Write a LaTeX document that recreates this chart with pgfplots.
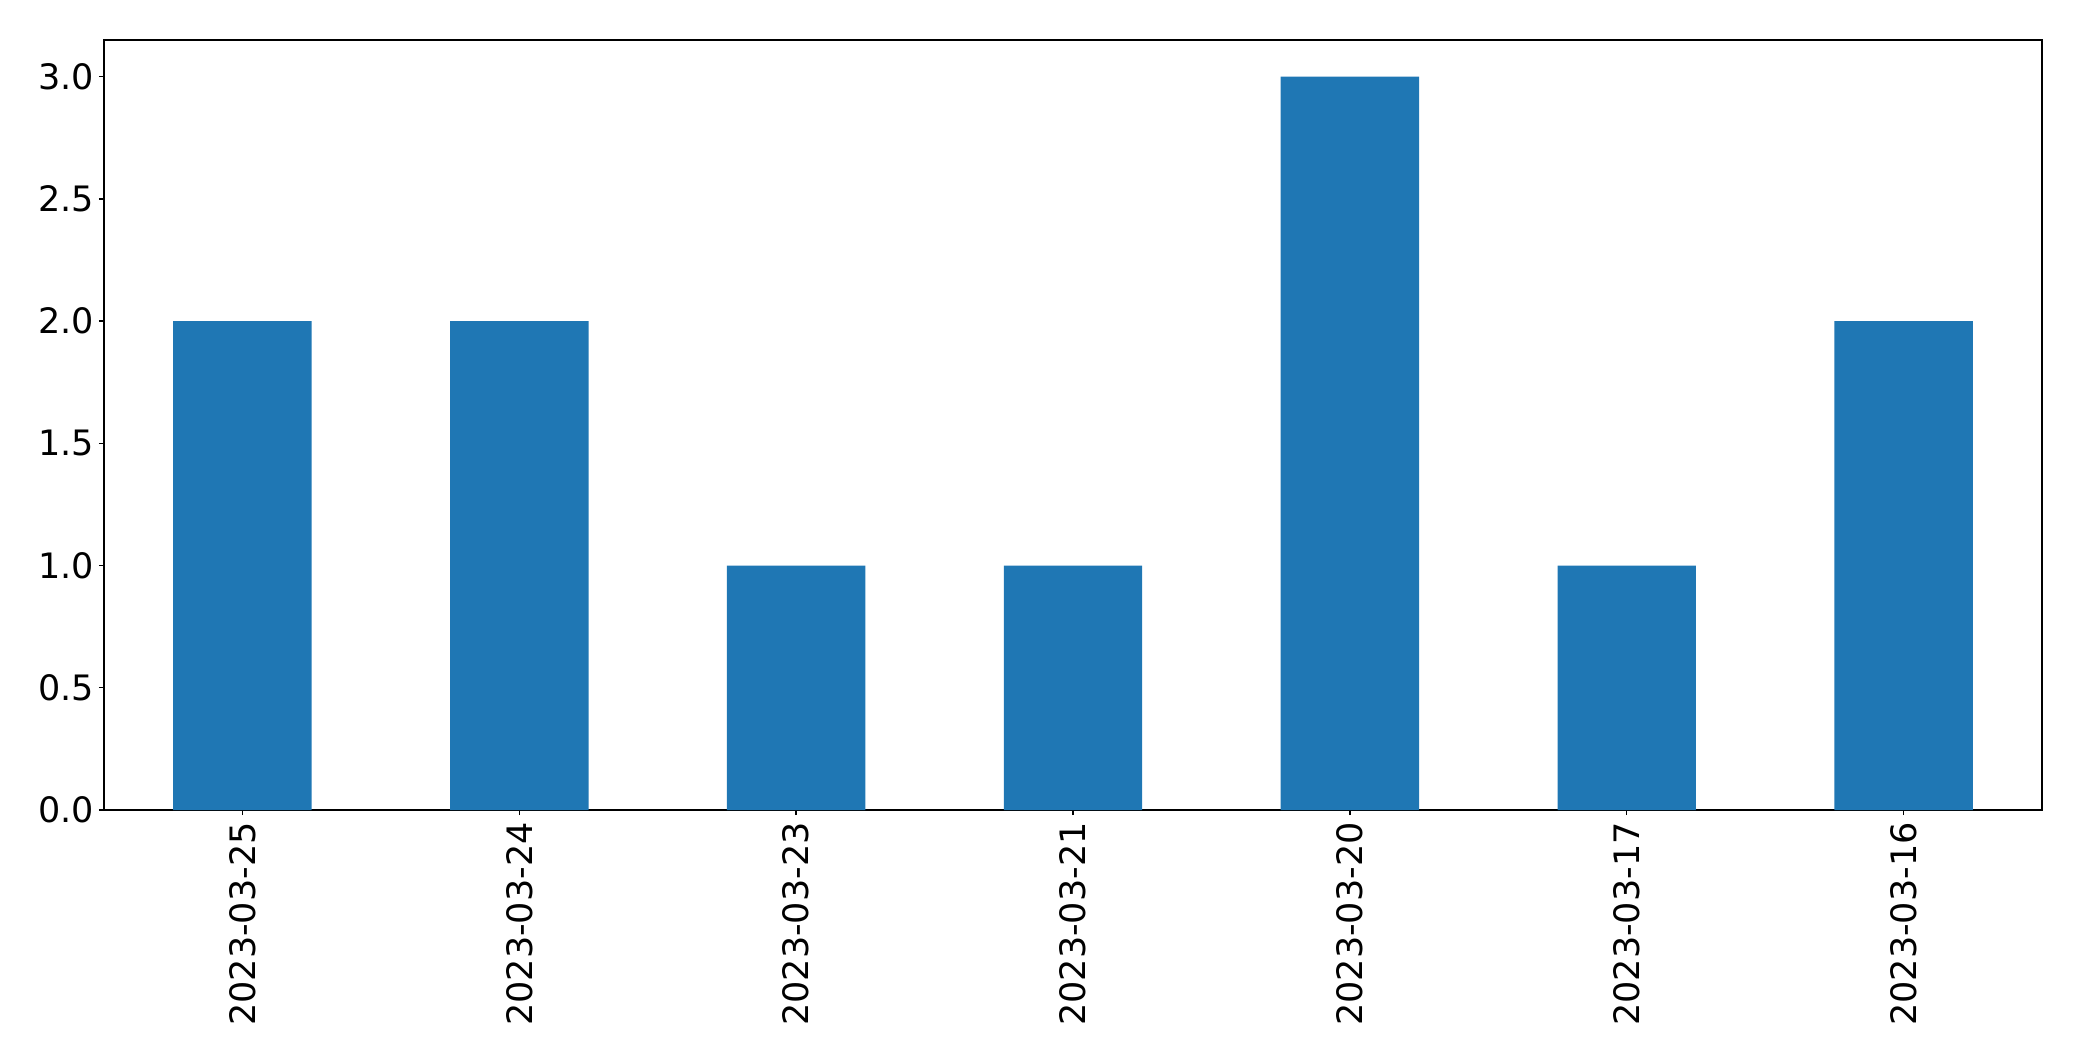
\documentclass[border=0pt]{standalone}
\usepackage{fontspec}
\setmainfont{DejaVu Sans}
\usepackage{pgfplots}
\pgfplotsset{compat=1.18}
\definecolor{mplblue}{HTML}{1F77B4}
\begin{document}
\fontsize{10.5pt}{12.6pt}\selectfont
\begin{tikzpicture}
\begin{axis}[
  scale only axis,
  width=581.4pt, height=231pt,
  xmin=-0.5, xmax=6.5,
  ymin=0, ymax=3.15,
  ybar, bar width=0.5, bar shift=0pt,
  xtick=data,
  xticklabels={2023-03-25,2023-03-24,2023-03-23,2023-03-21,2023-03-20,2023-03-17,2023-03-16},
  % rotated frame: xshift moves the label down the page
  xticklabel style={rotate=90, anchor=east, inner sep=0pt, xshift=-2pt},
  ytick={0,0.5,1,1.5,2,2.5,3},
  yticklabel style={/pgf/number format/fixed, /pgf/number format/fixed zerofill, /pgf/number format/precision=1},
  /pgf/number format/assume math mode=true,
  tick align=outside,
  major tick length=1.5pt,
  tick style={black, line width=0.4pt},
  xtick pos=bottom, ytick pos=left,
  axis line style={line width=0.4pt},
  y tick label style={inner sep=0pt, xshift=-1.3pt},
]
\addplot[fill=mplblue, draw=none] coordinates {
  (0,2) (1,2) (2,1) (3,1) (4,3) (5,1) (6,2)
};
\end{axis}
\path (current axis.south west) ++(-31.2pt,-75.6pt) coordinate (bl);
\path (current axis.north east) ++(12pt,12pt) coordinate (tr);
\path (bl) rectangle (tr);
\end{tikzpicture}
\end{document}
